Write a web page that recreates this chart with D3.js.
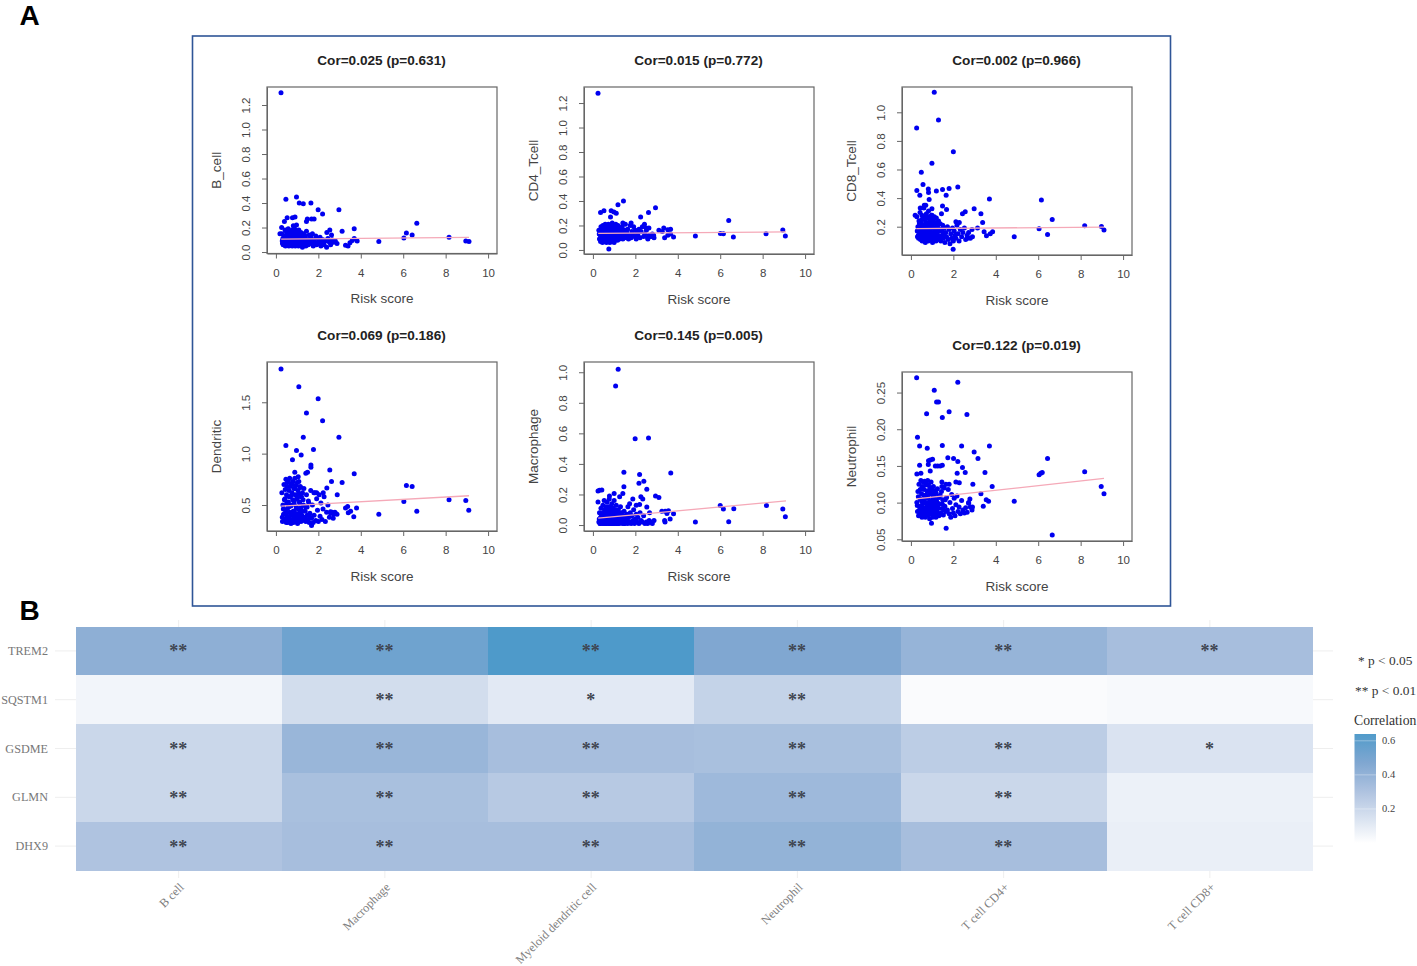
<!DOCTYPE html>
<html>
<head>
<meta charset="utf-8">
<script src="https://d3js.org/d3.v7.min.js"></script>
<style>
  html, body { margin: 0; padding: 0; background: #fff; }
  svg { display: block; }
  .plot text { font-family: "Liberation Sans", Arial, sans-serif; fill: #444; }
  .plot .title { font-weight: bold; font-size: 13.6px; fill: #222; }
  .plot .domain, .plot .tick line { stroke: #666; }
  .heat text { font-family: "Liberation Serif", serif; }
</style>
</head>
<body>
<div id="chart"></div>
<script>
// risk score of the samples in the dense part of every scatter (same samples in all six panels)
const clusterRisk = [
  .28,.31,.33,.36,.38,.41,.43,.45,.47,.49,
  .5,.52,.53,.55,.56,.58,.59,.61,.62,.64,
  .65,.67,.68,.7,.71,.73,.74,.76,.77,.79,
  .8,.82,.83,.85,.86,.88,.89,.91,.92,.94,
  .95,.97,.98,1.0,1.02,1.04,1.06,1.08,1.1,1.12,
  1.14,1.16,1.18,1.2,1.22,1.25,1.27,1.3,1.32,1.35,
  1.38,1.41,1.44,1.47,1.5,1.53,1.57,1.6,1.64,1.68,
  1.72,1.76,1.8,1.84,1.88,1.92,1.96,2.0,2.04,2.08,
  2.12,2.17,2.22,2.27,2.33,2.39,2.45,2.52,2.58,2.65,
  2.72,2.8,2.88,
  .3,.35,.4,.44,.48,.51,.54,.57,.6,.63,
  .66,.69,.72,.75,.78,.81,.84,.87,.9,.93,
  .96,.99,1.01,1.03,1.05,1.07,1.09,1.11,1.13,1.15,
  1.17,1.19,1.21,1.24,1.28,1.33,1.4,1.48,1.55,1.62];

const bCellCluster = [
  .15,.07,.11,.06,.13,.09,.18,.05,.12,.08,
  .16,.06,.1,.14,.07,.19,.09,.05,.12,.17,
  .08,.11,.06,.15,.1,.07,.13,.18,.05,.09,
  .16,.12,.06,.14,.08,.19,.1,.05,.13,.07,
  .17,.11,.06,.15,.09,.12,.05,.18,.08,.14,
  .1,.07,.16,.06,.12,.04,.09,.15,.07,.11,
  .13,.05,.17,.08,.1,.06,.14,.09,.12,.07,
  .15,.05,.1,.08,.13,.06,.11,.07,.09,.12,
  .05,.08,.1,.06,.09,.04,.11,.08,.06,.1,
  .08,.09,.07,
  .09,.06,.12,.08,.1,.06,.14,.08,.11,.07,
  .13,.09,.06,.12,.08,.1,.15,.07,.11,.09,
  .06,.13,.08,.12,.07,.1,.16,.06,.09,.11,
  .08,.13,.07,.1,.06,.12,.08,.1,.07,.09];
const cd4Cluster = [
  .16,.09,.13,.07,.19,.11,.15,.06,.2,.12,
  .08,.17,.1,.14,.07,.21,.12,.09,.16,.06,
  .13,.19,.08,.15,.11,.21,.07,.14,.1,.18,
  .06,.12,.2,.09,.16,.13,.07,.22,.11,.15,
  .08,.19,.12,.06,.17,.1,.14,.21,.09,.13,
  .16,.08,.2,.11,.14,.09,.18,.12,.15,.1,
  .19,.09,.13,.16,.11,.21,.1,.14,.17,.09,
  .12,.2,.1,.15,.13,.19,.11,.16,.09,.14,
  .12,.17,.1,.15,.19,.11,.13,.16,.1,.12,
  .11,.13,.1,
  .13,.1,.16,.12,.18,.09,.14,.11,.17,.08,
  .13,.19,.1,.15,.12,.17,.09,.14,.11,.18,
  .13,.1,.16,.08,.12,.19,.14,.1,.17,.11,
  .15,.09,.13,.18,.11,.15,.1,.13,.16,.12];
const cd8Cluster = [
  .27,.13,.2,.12,.24,.16,.3,.11,.18,.22,
  .14,.28,.1,.19,.25,.13,.16,.33,.11,.21,
  .26,.15,.09,.23,.18,.29,.12,.2,.14,.26,
  .17,.1,.31,.22,.13,.27,.15,.19,.11,.24,
  .16,.28,.12,.21,.09,.25,.14,.19,.27,.12,
  .23,.16,.1,.26,.14,.2,.11,.24,.17,.13,
  .22,.1,.18,.14,.21,.12,.19,.09,.16,.13,
  .2,.11,.18,.08,.15,.12,.19,.1,.17,.14,
  .12,.21,.15,.1,.18,.13,.16,.19,.11,.14,
  .16,.12,.18,
  .17,.14,.22,.15,.19,.25,.13,.21,.16,.27,
  .12,.18,.23,.15,.2,.26,.11,.17,.24,.14,
  .21,.28,.16,.12,.19,.23,.15,.26,.13,.18,
  .22,.11,.16,.2,.14,.18,.12,.17,.15,.13];
const dendriticCluster = [
  .62,.34,.5,.41,.7,.36,.56,.45,.75,.33,
  .6,.39,.68,.47,.33,.74,.53,.37,.64,.43,
  .76,.35,.58,.49,.32,.71,.4,.62,.36,.55,
  .73,.44,.33,.66,.51,.38,.76,.42,.6,.34,
  .69,.47,.35,.56,.32,.64,.41,.73,.37,.52,
  .45,.67,.34,.58,.4,.62,.35,.5,.66,.38,
  .44,.34,.6,.48,.36,.54,.33,.42,.64,.37,
  .5,.33,.4,.62,.35,.56,.45,.34,.6,.39,
  .52,.36,.46,.58,.34,.43,.5,.38,.42,.43,
  .41,.42,.41,
  .38,.46,.55,.65,.42,.52,.72,.37,.48,.58,
  .68,.4,.5,.6,.7,.35,.44,.54,.66,.39,
  .48,.57,.72,.36,.46,.61,.42,.53,.35,.68,
  .47,.58,.38,.44,.55,.36,.48,.4,.52,.38];
const macrophageCluster = [
  .02,.08,.01,.05,.11,.02,.07,.01,.13,.03,
  .06,.01,.16,.02,.09,.04,.01,.12,.03,.07,
  .01,.15,.03,.05,.1,.01,.08,.02,.17,.04,
  .01,.12,.06,.02,.09,.01,.14,.03,.07,.01,
  .11,.04,.02,.16,.01,.06,.09,.02,.13,.03,
  .01,.07,.04,.1,.01,.05,.02,.12,.03,.08,
  .01,.06,.03,.09,.01,.04,.02,.07,.01,.05,
  .02,.08,.01,.06,.03,.1,.01,.04,.07,.02,
  .05,.01,.08,.03,.02,.06,.01,.02,.01,.03,
  .02,.01,.03,
  .04,.01,.06,.03,.08,.02,.05,.1,.01,.04,
  .07,.02,.12,.03,.06,.01,.09,.04,.02,.11,
  .05,.01,.07,.03,.1,.02,.06,.01,.04,.08,
  .02,.05,.01,.03,.07,.02,.04,.01,.06,.03];
const neutrophilCluster = [
  .1,.088,.115,.082,.125,.095,.105,.086,.13,.092,
  .112,.08,.122,.098,.087,.128,.104,.084,.118,.091,
  .129,.1,.08,.11,.093,.126,.086,.116,.097,.13,
  .083,.107,.124,.09,.101,.078,.12,.094,.113,.085,
  .128,.099,.088,.117,.08,.106,.122,.09,.109,.084,
  .114,.096,.08,.103,.088,.119,.093,.108,.082,.098,
  .11,.086,.115,.092,.104,.083,.12,.095,.088,.107,
  .09,.118,.085,.1,.08,.111,.092,.086,.106,.082,
  .097,.109,.088,.094,.085,.103,.09,.086,.093,.087,
  .1,.094,.09,
  .096,.108,.09,.118,.085,.102,.12,.093,.11,.087,
  .1,.124,.091,.106,.083,.115,.097,.088,.112,.102,
  .09,.12,.085,.099,.11,.094,.082,.116,.103,.089,
  .096,.113,.086,.1,.092,.107,.084,.098,.09,.104];

// the points that stand apart from the cluster, [risk score, value]
const bCellSparse = [[.24,1.3],[.47,.43],[.97,.45],[1.1,.4],[1.29,.395],[1.65,.4],[1.99,.345],[2.2,.31],[2.97,.345],[3.12,.17],[3.69,.19],[2.54,.18],[2.62,.14],[2.4,.16],[4.85,.085],[6.03,.115],[6.15,.155],[6.42,.14],[6.64,.235],[8.16,.12],[8.95,.09],[9.1,.085],[.4,.25],[.53,.28],[.78,.28],[.9,.285],[1.44,.25],[1.48,.27],[1.68,.27],[1.8,.27],[.27,.2],[.19,.15],[.82,.215],[.97,.22],[3.28,.055],[3.4,.05],[3.49,.075],[3.6,.095],[3.69,.11],[3.83,.09]];
const cd4Sparse = [[.24,1.28],[.36,.305],[.52,.32],[.83,.27],[.86,.32],[.99,.31],[1.1,.3],[1.18,.37],[1.44,.4],[1.41,.22],[1.8,.22],[2.25,.27],[2.43,.21],[2.62,.305],[2.95,.345],[2.51,.18],[2.64,.18],[3.11,.16],[3.27,.15],[3.34,.18],[3.53,.165],[3.66,.17],[3.38,.1],[3.53,.12],[3.66,.13],[3.8,.105],[4.83,.115],[6.01,.135],[6.15,.133],[6.4,.24],[6.62,.105],[8.16,.133],[8.95,.163],[9.07,.115],[.75,.008],[2.59,.09],[2.75,.11],[2.86,.12]];
const cd8Sparse = [[.27,.89],[1.1,1.14],[1.3,.946],[2.0,.724],[.99,.644],[.49,.58],[.57,.495],[.28,.453],[.42,.42],[.82,.464],[.83,.44],[1.2,.45],[1.49,.46],[1.8,.467],[2.21,.478],[1.66,.42],[3.7,.394],[6.15,.387],[.86,.39],[1.49,.345],[1.68,.32],[.99,.325],[.63,.35],[.7,.35],[.44,.33],[1.44,.29],[2.98,.325],[3.3,.29],[2.56,.305],[2.43,.29],[3.38,.23],[3.14,.19],[2.12,.235],[2.28,.23],[6.66,.25],[6.04,.186],[6.44,.146],[4.87,.13],[8.19,.207],[8.98,.202],[9.1,.177],[1.99,.043],[3.85,.165],[3.45,.165],[3.56,.137],[3.74,.15],[2.9,.13],[2.67,.12],[.2,.28]];
const dendriticSparse = [[.24,1.825],[1.08,1.65],[1.99,1.535],[1.44,1.395],[2.2,1.32],[1.29,1.16],[2.97,1.16],[.47,1.08],[1.77,1.04],[.97,1.03],[1.19,.987],[.78,.94],[1.65,.89],[1.65,.867],[2.54,.84],[.89,.82],[1.41,.81],[1.49,.82],[1.05,.775],[2.62,.73],[3.12,.72],[3.69,.805],[2.4,.665],[2.23,.62],[2.89,.6],[1.79,.62],[1.92,.62],[3.38,.485],[3.28,.47],[3.8,.47],[3.52,.44],[3.41,.425],[3.67,.385],[4.85,.41],[2.7,.37],[6.03,.535],[6.15,.69],[6.42,.68],[6.64,.44],[8.16,.55],[8.95,.545],[9.09,.45],[2.57,.435],[2.78,.43],[1.68,.3]];
const macrophageSparse = [[1.19,1.02],[1.07,.91],[1.99,.565],[2.62,.57],[1.46,.345],[2.2,.33],[3.67,.34],[2.4,.286],[2.17,.273],[1.46,.25],[2.54,.235],[.31,.227],[.24,.223],[.42,.23],[1.0,.207],[1.41,.207],[.78,.19],[2.95,.19],[3.11,.18],[2.26,.185],[2.35,.17],[1.88,.17],[1.26,.185],[.24,.15],[2.54,.118],[2.67,.08],[3.25,.09],[3.41,.09],[3.56,.094],[3.49,.076],[3.8,.074],[3.64,.04],[3.38,.03],[3.4,.02],[4.83,.02],[6.0,.128],[6.15,.105],[6.4,.022],[6.64,.107],[8.18,.128],[8.95,.105],[9.07,.055],[1.73,.14],[2.04,.13],[2.2,.135],[1.65,.12]];
const neutrophilSparse = [[.27,.27],[2.21,.264],[1.1,.253],[1.21,.237],[1.3,.237],[.74,.221],[1.8,.224],[1.48,.216],[2.64,.22],[.31,.189],[.41,.177],[.77,.174],[1.48,.178],[2.39,.177],[3.7,.177],[2.98,.169],[3.16,.16],[6.44,.16],[1.02,.159],[.83,.157],[.91,.158],[1.74,.161],[2.01,.16],[2.21,.156],[2.43,.148],[.41,.151],[.82,.152],[1.15,.15],[1.26,.15],[1.38,.15],[1.48,.151],[2.56,.141],[3.49,.141],[6.12,.14],[6.04,.138],[6.19,.141],[8.19,.142],[8.97,.122],[9.1,.112],[4.87,.102],[6.66,.056],[1.66,.065],[2.18,.14],[.28,.139],[.47,.14],[.91,.143],[3.83,.122],[2.92,.125],[2.12,.128],[2.28,.127],[3.3,.112],[3.66,.102],[3.55,.104],[3.41,.095],[2.9,.094],[2.78,.105],[2.72,.099],[1.8,.125],[1.65,.125],[1.46,.128],[1.46,.122],[.97,.072]];

// panel A titles, axis names and ticks
const panelNames = ["B_cell", "CD4_Tcell", "CD8_Tcell", "Dendritic", "Macrophage", "Neutrophil"];
const panelTitles = ["Cor=0.025 (p=0.631)", "Cor=0.015 (p=0.772)", "Cor=0.002 (p=0.966)",
                     "Cor=0.069 (p=0.186)", "Cor=0.145 (p=0.005)", "Cor=0.122 (p=0.019)"];
const panelClusters = [bCellCluster, cd4Cluster, cd8Cluster, dendriticCluster, macrophageCluster, neutrophilCluster];
const panelSparse = [bCellSparse, cd4Sparse, cd8Sparse, dendriticSparse, macrophageSparse, neutrophilSparse];
const panelYTicks = [
  [0, .2, .4, .6, .8, 1, 1.2],
  [0, .2, .4, .6, .8, 1, 1.2],
  [.2, .4, .6, .8, 1],
  [.5, 1, 1.5],
  [0, .2, .4, .6, .8, 1],
  [.05, .1, .15, .2, .25]];
const panelYDomains = [[-.012, 1.347], [-.033, 1.331], [.002, 1.177], [.247, 1.892], [-.039, 1.067], [.0477, .278]];
// fitted line, value at the lowest and highest risk score
const fitRisk = [.25, 9.1];
const panelFits = [[.105, .12], [.135, .148], [.187, .197], [.49, .59], [.045, .158], [.105, .133]];
const riskTicks = [0, 2, 4, 6, 8, 10];

// panel B
const genes = ["TREM2", "SQSTM1", "GSDME", "GLMN", "DHX9"];
const cells = ["B cell", "Macrophage", "Myeloid dendritic cell", "Neutrophil", "T cell CD4+", "T cell CD8+"];
const correlation = [
  [.42, .53, .65, .47, .39, .33],
  [.05, .17, .11, .22, .02, .03],
  [.2, .38, .33, .32, .25, .14],
  [.2, .32, .27, .36, .2, .07],
  [.3, .33, .33, .4, .33, .08]];
const significance = [
  ["**", "**", "**", "**", "**", "**"],
  ["", "**", "*", "**", "", ""],
  ["**", "**", "**", "**", "**", "*"],
  ["**", "**", "**", "**", "**", ""],
  ["**", "**", "**", "**", "**", ""]];
const legendTicks = [.2, .4, .6];

const width = 1417, height = 966;
const svg = d3.select("#chart").append("svg")
  .attr("width", width).attr("height", height)
  .attr("viewBox", [0, 0, width, height]);

svg.append("rect").attr("x", 192.5).attr("y", 36).attr("width", 978).attr("height", 570)
  .attr("fill", "none").attr("stroke", "#2f5597").attr("stroke-width", 1.6);

svg.selectAll(".letter").data([["A", 19.5, 25], ["B", 19.5, 620]]).join("text")
  .attr("class", "letter")
  .attr("x", d => d[1]).attr("y", d => d[2])
  .attr("font-family", "Liberation Sans").attr("font-weight", "bold").attr("font-size", 28)
  .text(d => d[0]);

// scatter panels
const boxLefts = [267, 584, 902];
const boxWidth = 230;
const boxTops = [87, 87, 87, 362, 362, 372];
const boxHeights = [166.5, 167, 168, 169, 169, 169];

panelNames.forEach((name, i) => {
  const left = boxLefts[i % 3], top = boxTops[i], h = boxHeights[i];
  const x = d3.scaleLinear().domain([-.42, 10.42]).range([0, boxWidth]);
  const y = d3.scaleLinear().domain(panelYDomains[i]).range([h, 0]);
  const points = panelClusters[i].map((v, j) => [clusterRisk[j], v]).concat(panelSparse[i]);

  const g = svg.append("g").attr("class", "plot")
    .attr("transform", `translate(${left},${top})`);

  g.selectAll("circle").data(points).join("circle")
    .attr("cx", d => x(d[0])).attr("cy", d => y(d[1])).attr("r", 2.5)
    .attr("fill", "#0000f0");

  g.append("line")
    .attr("x1", x(fitRisk[0])).attr("x2", x(fitRisk[1]))
    .attr("y1", y(panelFits[i][0])).attr("y2", y(panelFits[i][1]))
    .attr("stroke", "#f5a9b8").attr("stroke-width", 1.3);

  g.append("rect").attr("width", boxWidth).attr("height", h)
    .attr("fill", "none").attr("stroke", "#666").attr("stroke-width", 1.2);

  g.append("g").attr("transform", `translate(0,${h})`)
    .call(d3.axisBottom(x).tickValues(riskTicks).tickSize(5).tickPadding(10).tickSizeOuter(0))
    .call(a => a.selectAll("text").attr("font-size", 11.5));

  const fmt = d3.format(name == "Neutrophil" ? ".2f" : ".1f");
  g.append("g")
    .call(d3.axisLeft(y).tickValues(panelYTicks[i]).tickFormat(fmt).tickSize(5).tickSizeOuter(0))
    .call(a => a.selectAll("text")
      .attr("font-size", 11.5)
      .attr("text-anchor", "middle")
      .attr("dy", 0)
      .attr("x", 0)
      .attr("transform", "translate(-17,0) rotate(-90)"));

  g.append("text").attr("class", "title")
    .attr("x", boxWidth / 2 - .5).attr("y", -22).attr("text-anchor", "middle")
    .text(panelTitles[i]);
  g.append("text")
    .attr("x", boxWidth / 2).attr("y", h + 49.5).attr("text-anchor", "middle").attr("font-size", 13.5)
    .text("Risk score");
  g.append("text")
    .attr("transform", `translate(-46,${h / 2}) rotate(-90)`).attr("text-anchor", "middle").attr("font-size", 13.5)
    .text(name);
});

// heatmap
const heat = svg.append("g").attr("class", "heat");
const xBand = d3.scaleBand().domain(cells).range([75.5, 1313]);
const yBand = d3.scaleBand().domain(genes).range([626.5, 870.5]);
const color = d3.scaleLinear()
  .domain([0, .3, .47, .65])
  .range(["#ffffff", "#afc3e0", "#80a7d1", "#4e9aca"]);
const mid = d => xBand(d) + xBand.bandwidth() / 2;
const midY = d => yBand(d) + yBand.bandwidth() / 2;

heat.selectAll(".gridY").data(genes).join("line").attr("class", "gridY")
  .attr("x1", 55).attr("x2", 1333).attr("y1", midY).attr("y2", midY)
  .attr("stroke", "#eeeeee");
heat.selectAll(".gridX").data(cells).join("line").attr("class", "gridX")
  .attr("x1", mid).attr("x2", mid).attr("y1", 620).attr("y2", 878)
  .attr("stroke", "#eeeeee");

const cellData = genes.flatMap((g, r) => cells.map((c, k) =>
  ({ gene: g, cell: c, value: correlation[r][k], mark: significance[r][k] })));

heat.selectAll(".cell").data(cellData).join("rect").attr("class", "cell")
  .attr("x", d => xBand(d.cell)).attr("y", d => yBand(d.gene))
  .attr("width", xBand.bandwidth()).attr("height", yBand.bandwidth())
  .attr("shape-rendering", "crispEdges")
  .attr("fill", d => color(d.value));

heat.selectAll(".mark").data(cellData.filter(d => d.mark)).join("text").attr("class", "mark")
  .attr("x", d => mid(d.cell) - .5).attr("y", d => midY(d.gene) + 6.5)
  .attr("text-anchor", "middle").attr("font-size", 18).attr("font-weight", "bold")
  .attr("fill", "#3f4550")
  .text(d => d.mark);

heat.selectAll(".rowLabel").data(genes).join("text").attr("class", "rowLabel")
  .attr("x", 48).attr("y", d => midY(d) + 4).attr("text-anchor", "end")
  .attr("font-size", 12.2).attr("fill", "#777")
  .text(d => d);

heat.selectAll(".colLabel").data(cells).join("text").attr("class", "colLabel")
  .attr("transform", d => `translate(${mid(d) + 6},${888}) rotate(-45)`)
  .attr("text-anchor", "end").attr("font-size", 12.2).attr("fill", "#808080")
  .text(d => d);

// legend
const legendY = d3.scaleLinear().domain([0, .64]).range([843, 734]);
const defs = svg.append("defs");
const grad = defs.append("linearGradient").attr("id", "corrGrad")
  .attr("x1", 0).attr("x2", 0).attr("y1", 1).attr("y2", 0);
grad.selectAll("stop").data(color.domain().slice(0, 3).concat(.64)).join("stop")
  .attr("offset", d => d / .64)
  .attr("stop-color", d => color(d));

heat.append("rect").attr("x", 1354.5).attr("y", legendY(.64))
  .attr("width", 21.5).attr("height", legendY(0) - legendY(.64))
  .attr("fill", "url(#corrGrad)");
heat.selectAll(".legendTick").data(legendTicks).join("line").attr("class", "legendTick")
  .attr("x1", 1354.5).attr("x2", 1376).attr("y1", legendY).attr("y2", legendY)
  .attr("stroke", "#ffffff").attr("stroke-opacity", .35);
heat.selectAll(".legendLabel").data(legendTicks).join("text").attr("class", "legendLabel")
  .attr("x", 1382).attr("y", d => legendY(d) + 3.5)
  .attr("font-size", 10.5).attr("fill", "#444")
  .text(d => d3.format(".1f")(d));

heat.selectAll(".note").data([["* p < 0.05", 1358, 665], ["** p < 0.01", 1355, 695]]).join("text").attr("class", "note")
  .attr("x", d => d[1]).attr("y", d => d[2])
  .attr("font-size", 13.4).attr("fill", "#333")
  .text(d => d[0]);
heat.append("text").attr("x", 1354).attr("y", 725)
  .attr("font-size", 13.7).attr("fill", "#333")
  .text("Correlation");
</script>
</body>
</html>
